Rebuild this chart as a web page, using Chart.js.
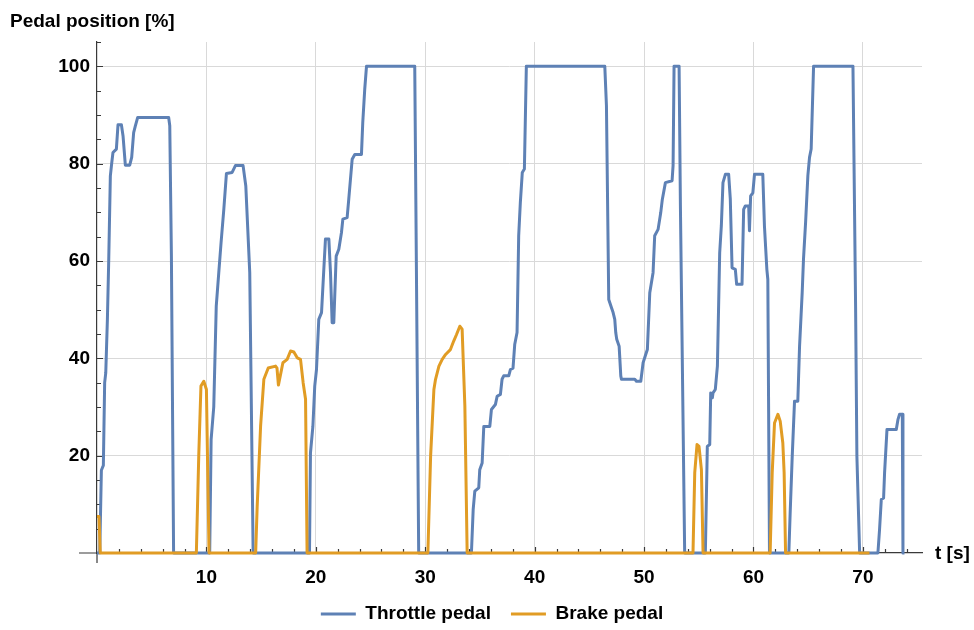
<!DOCTYPE html>
<html>
<head>
<meta charset="utf-8">
<script src="https://cdn.jsdelivr.net/npm/chart.js@4.4.0/dist/chart.umd.min.js"></script>
<style>
  html, body { margin: 0; padding: 0; background: #fff; }
  canvas { display: block; }
</style>
</head>
<body>
<canvas id="pedalChart" width="974" height="630"></canvas>
<script>
// Throttle pedal samples (time in s, position in %)
const throttleTime = [
  0, 0.25, 0.4, 0.58, 0.7, 0.8, 0.95, 1.07, 1.22, 1.34, 1.46, 1.77, 1.92, 2.23, 2.38, 2.59, 2.99, 3.17, 3.35, 3.5, 3.72, 6.55, 6.65, 6.8, 7.0,
  10.3, 10.43, 10.67, 10.9, 11.13, 11.34, 11.59, 11.83, 12.35, 12.65, 13.35, 13.6, 13.96, 14.27,
  19.42, 19.51, 19.73, 19.9, 20.06, 20.27, 20.52, 20.73, 20.88, 21.19, 21.34, 21.49, 21.64, 21.86, 22.1, 22.34, 22.47, 22.86, 23.01, 23.32, 23.56, 24.17, 24.29, 24.47, 24.63, 29.04, 29.19, 29.4,
  34.22, 34.38, 34.53, 34.89, 34.98, 35.2, 35.35, 35.9, 36.05, 36.41, 36.57, 36.87, 37.02, 37.17, 37.63, 37.78, 38.02, 38.18, 38.39, 38.54, 38.69, 38.87, 39.06, 39.24,
  46.41, 46.56, 46.77, 46.96, 47.17, 47.32, 47.41, 47.5, 47.72, 47.87, 47.93, 49.15, 49.3, 49.7, 49.91, 50.15, 50.3, 50.52, 50.82, 50.97, 51.28, 51.52, 51.67, 51.95, 52.56, 52.65, 52.74, 53.2, 53.32, 53.71,
  55.6, 55.78, 56.0, 56.09, 56.24, 56.3, 56.51, 56.7, 56.91, 57.06, 57.21, 57.43, 57.73, 57.88, 58.04, 58.34, 58.46, 58.95, 59.1, 59.25, 59.56, 59.63, 59.74, 59.94, 60.09, 60.85, 61.0, 61.22, 61.31, 61.46,
  63.23, 63.35, 63.54, 63.75, 64.05, 64.21, 64.45, 64.57, 64.76, 64.97, 65.12, 65.27, 65.49, 69.09, 69.33, 69.45, 69.7,
  71.37, 71.52, 71.68, 71.89, 71.98, 72.2, 73.05, 73.2, 73.35, 73.6, 73.66, 73.8
];
const throttleValue = [
  0, 0, 17, 18, 35, 37, 48, 60, 77.5, 80, 82.3, 83, 88, 88, 85.7, 79.7, 79.7, 81.3, 86.4, 87.7, 89.5, 89.5, 87.8, 61, 0,
  0, 23.3, 30, 50.8, 57.6, 63.8, 70.6, 78, 78.2, 79.6, 79.6, 75.4, 57.6, 0,
  0, 20.6, 26, 34.3, 37.7, 48, 49.4, 58.3, 64.5, 64.5, 57.6, 47.3, 47.3, 61, 62.4, 65.8, 68.6, 68.9, 72.7, 80.9, 81.9, 81.9, 88.5, 95.3, 100, 100, 59, 0,
  0, 8.9, 12.7, 13.4, 17.1, 18.5, 26, 26, 29.5, 30.5, 32.2, 32.6, 35.7, 36.4, 36.4, 37.7, 38, 42.9, 45.3, 65.2, 72, 78.2, 78.9, 100,
  100, 91.9, 52.1, 50.8, 49.4, 48, 45.3, 43.9, 42.5, 36.4, 35.7, 35.7, 35.3, 35.3, 39.1, 40.8, 41.8, 53.5, 57.6, 65.2, 66.5, 69.9, 72.7, 76.1, 76.5, 79.6, 100, 100, 71.3, 0,
  0, 21.9, 22.3, 32.9, 31.9, 32.9, 33.6, 38.4, 61.7, 67.2, 76.1, 77.8, 77.8, 72.7, 58.6, 58.3, 55.2, 55.2, 70.6, 71.3, 71.3, 66.2, 73.4, 74, 77.8, 77.8, 67.2, 58.3, 56.2, 0,
  0, 8.2, 19.9, 31.2, 31.2, 42.5, 53.5, 60.4, 67.9, 77.6, 81.3, 83, 100, 100, 50.8, 19.9, 0,
  0, 4.8, 11, 11.3, 16.5, 25.4, 25.4, 27.4, 28.5, 28.5, 0, 0
];

// Brake pedal samples
const brakeTime = [
  0, 0.18, 0.3, 9.08, 9.3, 9.5, 9.76, 10.0, 10.12, 10.24,
  14.5, 14.64, 14.95, 15.25, 15.65, 16.32, 16.45, 16.58, 16.99, 17.38, 17.69, 17.99, 18.3, 18.6, 18.84, 19.06, 19.2,
  30.24, 30.49, 30.79, 30.94, 31.25, 31.55, 31.86, 32.3, 32.61, 32.86, 33.16, 33.37, 33.62, 33.83,
  54.47, 54.63, 54.84, 55.02, 55.24, 55.39,
  61.52, 61.71, 61.92, 62.23, 62.44, 62.68, 62.8, 62.93, 70.6
];
const brakeValue = [
  7.5, 7.5, 0, 0, 20, 34.3, 35.3, 33.6, 16.5, 0,
  0, 9.6, 26, 35.7, 38, 38.4, 38, 34.5, 39.1, 39.8, 41.5, 41.3, 40.1, 39.8, 35, 31.6, 0,
  0, 19.9, 33.6, 35.7, 38.4, 39.8, 40.8, 41.8, 43.6, 44.9, 46.6, 46, 30.2, 0,
  0, 16.5, 22.3, 21.9, 17.1, 0,
  0, 16.5, 26.7, 28.5, 27.1, 22.6, 16.5, 0, 0
];

const seriesNames = ['Throttle pedal', 'Brake pedal'];
const seriesColors = ['#5E81B5', '#E19C24'];
const xRange = [0, 75.4];
const yRange = [0, 105];
const xMajorStep = 10;
const xMinorStep = 2;
const yMajorStep = 20;
const yMinorStep = 5;

const AXIS_COLOR = '#3a3a3a';
const GRID_COLOR = '#d9d9d9';
const FONT = { family: '"Liberation Sans", Arial, sans-serif', size: 19, weight: 'bold' };

function toPoints(times, values) {
  return times.map((t, i) => ({ x: t, y: values[i] }));
}

// Mathematica-style axes: inward ticks, small overhang past the origin, "t [s]" label
const axisExtras = {
  id: 'axisExtras',
  beforeDatasetsDraw(chart) {
    const { ctx, chartArea, scales: { x, y } } = chart;
    const x0 = x.getPixelForValue(0);
    const y0 = y.getPixelForValue(0);
    ctx.save();
    ctx.strokeStyle = AXIS_COLOR;
    ctx.lineWidth = 1.2;
    ctx.beginPath();
    ctx.moveTo(x0 - 18, y0);
    ctx.lineTo(x0, y0);
    ctx.moveTo(x0, y0);
    ctx.lineTo(x0, y0 + 10);
    for (let v = xMinorStep; v < xRange[1]; v += xMinorStep) {
      const px = Math.round(x.getPixelForValue(v)) + 0.5;
      const len = v % xMajorStep === 0 ? 6 : 4;
      ctx.moveTo(px, y0);
      ctx.lineTo(px, y0 - len);
    }
    for (let v = yMinorStep; v <= yRange[1]; v += yMinorStep) {
      const py = Math.round(y.getPixelForValue(v)) + 0.5;
      const len = v % yMajorStep === 0 ? 6 : 4;
      ctx.moveTo(x0, py);
      ctx.lineTo(x0 + len, py);
    }
    ctx.stroke();

    ctx.fillStyle = '#000';
    ctx.font = 'bold 19px "Liberation Sans", Arial, sans-serif';
    ctx.textAlign = 'left';
    ctx.textBaseline = 'middle';
    ctx.fillText('t [s]', chartArea.right + 13, y0 + 1);
    ctx.restore();
  }
};

const chart = new Chart(document.getElementById('pedalChart'), {
  type: 'line',
  data: {
    datasets: [
      {
        label: seriesNames[0],
        data: toPoints(throttleTime, throttleValue),
        borderColor: seriesColors[0],
        backgroundColor: seriesColors[0],
        borderWidth: 3,
        borderJoinStyle: 'round',
        pointRadius: 0,
        tension: 0,
        clip: 6,
        order: 1
      },
      {
        label: seriesNames[1],
        data: toPoints(brakeTime, brakeValue),
        borderColor: seriesColors[1],
        backgroundColor: seriesColors[1],
        borderWidth: 3,
        borderJoinStyle: 'round',
        pointRadius: 0,
        tension: 0,
        clip: 6,
        order: 0
      }
    ]
  },
  options: {
    responsive: false,
    animation: false,
    events: [],
    layout: { padding: { left: 10, right: 0, top: 0, bottom: 0 } },
    plugins: {
      title: {
        display: true,
        text: 'Pedal position [%]',
        align: 'start',
        color: '#000',
        font: FONT,
        padding: { top: 10, bottom: 9.2 }
      },
      legend: {
        position: 'bottom',
        maxHeight: 45.5,
        labels: {
          color: '#000',
          font: FONT,
          boxWidth: 35,
          boxHeight: 3,
          padding: 20,
          generateLabels(chart) {
            return Chart.defaults.plugins.legend.labels.generateLabels(chart)
              .sort((a, b) => a.datasetIndex - b.datasetIndex)
              .map(item => ({ ...item, lineWidth: 0 }));
          }
        }
      },
      tooltip: { enabled: false }
    },
    scales: {
      x: {
        type: 'linear',
        position: 'bottom',
        min: xRange[0],
        max: xRange[1],
        afterFit(scale) { scale.height = 31.5; },
        grid: { color: GRID_COLOR, lineWidth: 1, drawTicks: false },
        border: { color: AXIS_COLOR, width: 1.2 },
        ticks: {
          stepSize: xMajorStep,
          includeBounds: false,
          padding: 13,
          color: '#000',
          font: FONT,
          maxRotation: 0,
          callback: v => (v === 0 ? null : v)
        }
      },
      y: {
        type: 'linear',
        position: 'left',
        min: yRange[0],
        max: yRange[1],
        afterFit(scale) { scale.width = 87; },
        grid: { color: GRID_COLOR, lineWidth: 1, drawTicks: false },
        border: { color: AXIS_COLOR, width: 1.2 },
        ticks: {
          stepSize: yMajorStep,
          includeBounds: false,
          padding: 7,
          color: '#000',
          font: FONT,
          callback: v => (v === 0 ? null : v)
        }
      },
      yRight: {
        type: 'linear',
        position: 'right',
        display: true,
        afterFit(scale) { scale.width = 52; },
        grid: { display: false },
        border: { display: false },
        ticks: { display: false }
      }
    }
  },
  plugins: [axisExtras]
});
</script>
</body>
</html>
